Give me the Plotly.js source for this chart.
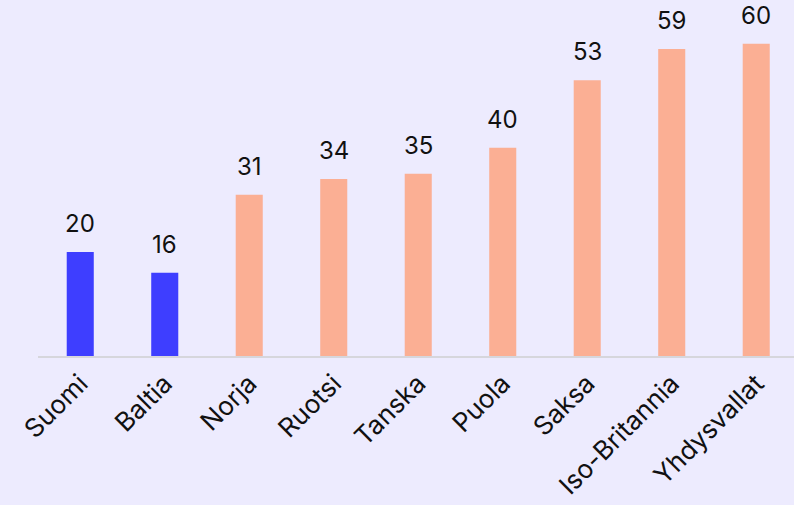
<!DOCTYPE html>
<html>
<head>
<meta charset="utf-8">
<script src="https://cdn.plot.ly/plotly-3.0.1.min.js"></script>
<style>
html,body{margin:0;padding:0;background:#EDEBFE;}
#chart{width:794px;height:505px;}
</style>
</head>
<body>
<div id="chart"></div>
<script>
var categories = ["Suomi","Baltia","Norja","Ruotsi","Tanska","Puola","Saksa","Iso-Britannia","Yhdysvallat"];
var values = [20,16,31,34,35,40,53,59,60];
var barColors = ["#3E3EFF","#3E3EFF","#FBAF94","#FBAF94","#FBAF94","#FBAF94","#FBAF94","#FBAF94","#FBAF94"];

var font = "Inter, Liberation Sans, Arial, sans-serif";

var trace = {
  type: "bar",
  x: categories,
  y: values,
  marker: {color: barColors},
  width: 0.32,
  hoverinfo: "none"
};

var annotations = categories.map(function(c, i){
  return {
    x: c, y: values[i], xref: "x", yref: "y",
    text: String(values[i]),
    showarrow: false,
    yanchor: "bottom",
    yshift: 12,
    font: {family: font, size: 24, color: "#111111"}
  };
});

var layout = {
  width: 794, height: 505,
  paper_bgcolor: "#EDEBFE",
  plot_bgcolor: "#EDEBFE",
  margin: {l: 38, r: 0, t: 0, b: 149},
  showlegend: false,
  xaxis: {
    range: [-0.5, 8.447],
    showline: true, linecolor: "#D6D6DC", linewidth: 2,
    ticks: "", tickangle: -45,
    tickfont: {family: font, size: 26, color: "#111111"},
    showgrid: false, zeroline: false
  },
  yaxis: {
    range: [0, 68.4],
    visible: false, showgrid: false, zeroline: false
  },
  annotations: annotations
};

Plotly.newPlot("chart", [trace], layout, {displayModeBar: false, staticPlot: true});
</script>
</body>
</html>
